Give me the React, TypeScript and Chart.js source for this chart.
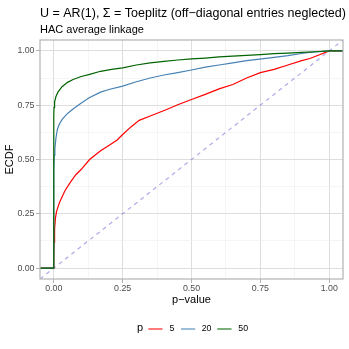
import React, { useEffect, useRef } from "react";
import { Chart, registerables } from "chart.js";

Chart.register(...registerables);

const titleText = "U = AR(1), \u03A3 = Toeplitz (off\u2212diagonal entries neglected)";
const subtitleText = "HAC average linkage";
const xAxisTitle = "p\u2212value";
const yAxisTitle = "ECDF";
const legendTitle = "p";
const seriesNames = ["5", "20", "50"];
const seriesColors = ["#FF0000", "#4682B4", "#006400"];

const tickValues = [0, 0.125, 0.25, 0.375, 0.5, 0.625, 0.75, 0.875, 1];
const majorTicks = [0, 0.25, 0.5, 0.75, 1];

const p5X = [-0.06, 0, 0, 0.001, 0.003, 0.006, 0.01, 0.02, 0.04, 0.06, 0.08, 0.1, 0.13, 0.17, 0.2, 0.23, 0.25, 0.28, 0.31, 0.35, 0.41, 0.45, 0.5, 0.55, 0.6, 0.65, 0.7, 0.75, 0.8, 0.85, 0.9, 0.93, 0.96, 1.0, 1.06];
const p5Y = [0, 0, 0.05, 0.12, 0.18, 0.23, 0.26, 0.3, 0.355, 0.395, 0.43, 0.455, 0.5, 0.54, 0.565, 0.59, 0.615, 0.65, 0.68, 0.7, 0.73, 0.752, 0.776, 0.8, 0.825, 0.845, 0.875, 0.9, 0.915, 0.935, 0.955, 0.965, 0.98, 1.0, 1.0];

const p20X = [-0.06, 0, 0, 0.002, 0.004, 0.008, 0.013, 0.02, 0.031, 0.05, 0.07, 0.1, 0.13, 0.17, 0.2, 0.25, 0.3, 0.35, 0.4, 0.45, 0.5, 0.55, 0.6, 0.65, 0.7, 0.74, 0.8, 0.85, 0.9, 0.92, 0.96, 1.0, 1.06];
const p20Y = [0, 0, 0.46, 0.52, 0.55, 0.6, 0.638, 0.662, 0.686, 0.712, 0.732, 0.76, 0.785, 0.81, 0.822, 0.838, 0.858, 0.875, 0.889, 0.9, 0.912, 0.925, 0.935, 0.945, 0.955, 0.961, 0.97, 0.978, 0.988, 0.992, 0.996, 1.0, 1.0];

const p50X = [-0.06, 0, 0, 0.001, 0.003, 0.008, 0.015, 0.03, 0.05, 0.07, 0.1, 0.13, 0.17, 0.21, 0.25, 0.3, 0.35, 0.4, 0.45, 0.5, 0.55, 0.6, 0.65, 0.7, 0.75, 0.8, 0.85, 0.9, 0.95, 1.0, 1.06];
const p50Y = [0, 0, 0.7, 0.74, 0.765, 0.79, 0.81, 0.835, 0.855, 0.868, 0.882, 0.892, 0.906, 0.915, 0.922, 0.935, 0.945, 0.952, 0.958, 0.963, 0.967, 0.972, 0.976, 0.979, 0.983, 0.987, 0.99, 0.993, 0.996, 1.0, 1.0];

const refX = [-0.05, 1.05];
const refY = [-0.05, 1.05];

const FONT = "'Liberation Sans', Arial, Helvetica, sans-serif";

function pts(xs: number[], ys: number[]) {
  return xs.map((x, i) => ({ x, y: ys[i] }));
}

const overlay = {
  id: "overlay",
  afterDraw(chart: any) {
    const ctx = chart.ctx as CanvasRenderingContext2D;
    const a = chart.chartArea;
    ctx.save();
    // panel border
    ctx.strokeStyle = "#b3b3b3";
    ctx.lineWidth = 1.2;
    ctx.strokeRect(a.left, a.top, a.right - a.left, a.bottom - a.top);
    // titles
    ctx.fillStyle = "#000";
    ctx.textBaseline = "middle";
    ctx.textAlign = "left";
    ctx.font = `12.5px ${FONT}`;
    ctx.fillText(titleText, a.left, 13.5);
    ctx.font = `11px ${FONT}`;
    ctx.fillText(subtitleText, a.left, 30);
    // axis titles
    ctx.textAlign = "center";
    ctx.fillText(xAxisTitle, (a.left + a.right) / 2, 300);
    ctx.save();
    ctx.translate(10, (a.top + a.bottom) / 2);
    ctx.rotate(-Math.PI / 2);
    ctx.fillText(yAxisTitle, 0, 0);
    ctx.restore();
    // legend
    const ly = 329;
    ctx.textAlign = "left";
    ctx.font = `11px ${FONT}`;
    ctx.fillText(legendTitle, 137, ly - 1);
    const keyX = [148.3, 181, 217.3];
    const labX = [169.5, 201.7, 238.3];
    ctx.font = `8.8px ${FONT}`;
    for (let i = 0; i < 3; i++) {
      ctx.strokeStyle = seriesColors[i];
      ctx.globalAlpha = 0.75;
      ctx.lineWidth = 1.4;
      ctx.beginPath();
      ctx.moveTo(keyX[i], ly);
      ctx.lineTo(keyX[i] + 14.2, ly);
      ctx.stroke();
      ctx.globalAlpha = 1;
      ctx.fillStyle = "#000";
      ctx.fillText(seriesNames[i], labX[i], ly);
    }
    ctx.restore();
  },
};

const isMajor = (v: number) => majorTicks.some((m) => Math.abs(m - v) < 1e-9);

function makeScale(kind: "x" | "y") {
  return {
    type: "linear" as const,
    min: -0.05,
    max: 1.05,
    afterBuildTicks: (scale: any) => {
      scale.ticks = tickValues.map((v) => ({ value: v, major: isMajor(v) }));
    },
    afterFit: (scale: any) => {
      if (kind === "y") scale.width = 40;
      else scale.height = 20;
    },
    border: { display: false },
    grid: {
      drawTicks: true,
      tickLength: 4,
      color: (c: any) => (c.tick && isMajor(c.tick.value) ? "#dedede" : "#eeeeee"),
      lineWidth: (c: any) => (c.tick && isMajor(c.tick.value) ? 1 : 0.6),
      tickColor: (c: any) => (c.tick && isMajor(c.tick.value) ? "#b3b3b3" : "rgba(0,0,0,0)"),
      tickWidth: 1,
    },
    ticks: {
      autoSkip: false,
      maxRotation: 0,
      padding: kind === "y" ? 1.5 : 0,
      color: "#4d4d4d",
      font: { size: 8.8, family: FONT },
      callback: (v: any) => (isMajor(Number(v)) ? Number(v).toFixed(2) : ""),
    },
  };
}

export default function App() {
  const ref = useRef<HTMLCanvasElement | null>(null);
  useEffect(() => {
    document.body.style.margin = "0";
    if (!ref.current) return;
    Chart.defaults.font.family = FONT;
    const chart = new Chart(ref.current, {
      type: "scatter",
      data: {
        datasets: [
          {
            label: seriesNames[2],
            data: pts(p50X, p50Y),
            borderColor: seriesColors[2],
            borderWidth: 1.2,
            showLine: true,
            pointRadius: 0,
            order: 0,
          },
          {
            label: seriesNames[1],
            data: pts(p20X, p20Y),
            borderColor: seriesColors[1],
            borderWidth: 1.2,
            showLine: true,
            pointRadius: 0,
            order: 1,
          },
          {
            label: seriesNames[0],
            data: pts(p5X, p5Y),
            borderColor: seriesColors[0],
            borderWidth: 1.2,
            showLine: true,
            pointRadius: 0,
            order: 2,
          },
          {
            label: "ref",
            data: pts(refX, refY),
            borderColor: "rgba(120,115,215,0.6)",
            borderWidth: 1.2,
            borderDash: [4, 4],
            showLine: true,
            pointRadius: 0,
            order: 3,
          },
        ],
      },
      options: {
        animation: false,
        responsive: false,
        devicePixelRatio: 1,
        layout: { padding: { left: 0, top: 40, right: 6, bottom: 50 } },
        plugins: { legend: { display: false }, tooltip: { enabled: false }, title: { display: false } },
        scales: { x: makeScale("x"), y: makeScale("y") },
        elements: { line: { tension: 0 } },
      },
      plugins: [overlay],
    } as any);
    return () => chart.destroy();
  }, []);
  return (
    <div style={{ position: "fixed", left: 0, top: 0, width: 349, height: 349, background: "#fff" }}>
      <canvas ref={ref} width={349} height={349} style={{ display: "block", width: 349, height: 349 }} />
    </div>
  );
}
